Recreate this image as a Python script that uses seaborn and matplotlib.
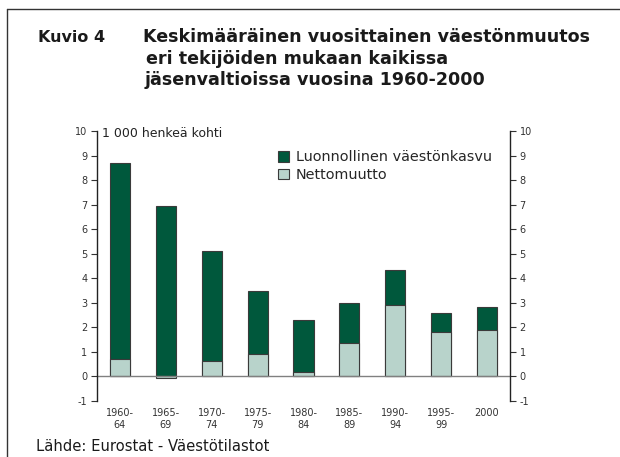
import numpy as np
import pandas as pd
import seaborn as sns
import matplotlib.pyplot as plt
from matplotlib.patches import Patch
from matplotlib.lines import Line2D

# Tiedot
jaksot = ['1960-\n64', '1965-\n69', '1970-\n74', '1975-\n79', '1980-\n84',
          '1985-\n89', '1990-\n94', '1995-\n99', '2000']
luonnollinen = [8.0, 6.95, 4.5, 2.57, 2.1, 1.65, 1.43, 0.78, 0.94]
nettomuutto = [0.7, -0.05, 0.61, 0.9, 0.2, 1.35, 2.9, 1.8, 1.88]

tumma = '#00583c'
vaalea = '#b8d3cb'
reuna = '#3a3a3a'

sns.set_style('ticks')
plt.rcParams['font.family'] = ['DejaVu Sans']
plt.rcParams['axes.unicode_minus'] = False

df = pd.DataFrame({'jakso': jaksot,
                   'luonnollinen': luonnollinen,
                   'netto': nettomuutto})
# pinottu pylväs: luonnollinen kasvu netto-osan päällä
df['yhteensa'] = df['luonnollinen'] + df['netto'].clip(lower=0)

fig = plt.figure(figsize=(6.2, 4.57), dpi=100)
ax = fig.add_axes([0.1565, 0.1225, 0.666, 0.5908])

sns.barplot(data=df, x='jakso', y='yhteensa', color=tumma, width=0.44,
            edgecolor=reuna, linewidth=0.8, saturation=1, ax=ax)
sns.barplot(data=df, x='jakso', y='netto', color=vaalea, width=0.44,
            edgecolor=reuna, linewidth=0.8, saturation=1, ax=ax)

ax.axhline(0, color='#808080', linewidth=1.0, zorder=1)
ax.set_ylim(-1, 10)
ax.set_xlim(-0.5, len(jaksot) - 0.5)
ax.set_yticks(range(-1, 11))
ax.set_xlabel('')
ax.set_ylabel('')

for s in ['left', 'right']:
    ax.spines[s].set_visible(True)
    ax.spines[s].set_color('#222222')
    ax.spines[s].set_linewidth(1.0)
ax.spines['top'].set_visible(False)
ax.spines['bottom'].set_visible(False)

ax.tick_params(axis='y', which='both', left=True, right=True, labelleft=True,
               labelright=True, direction='out', length=4, width=0.8,
               labelsize=7, colors='#333333', pad=3)
ax.tick_params(axis='x', length=0, labelsize=7, colors='#333333', pad=5)

ax.text(0.013, 0.99, '1 000 henkeä kohti', transform=ax.transAxes,
        fontsize=9, color='#222222', va='center', ha='left')

kahvat = [Patch(facecolor=tumma, edgecolor=reuna, linewidth=0.8),
          Patch(facecolor=vaalea, edgecolor=reuna, linewidth=0.8)]
ax.legend(kahvat, ['Luonnollinen väestönkasvu', 'Nettomuutto'],
          loc='upper left', bbox_to_anchor=(0.425, 0.95), frameon=False,
          fontsize=10.4, handlelength=0.75, handleheight=0.75,
          handletextpad=0.45, labelspacing=0.25, borderaxespad=0)

# otsikko
fig.text(0.061, 0.918, 'Kuvio 4', fontsize=11.5, fontweight='bold',
         color='#1a1a1a', va='center')
fig.text(0.231, 0.918, 'Keskimääräinen vuosittainen väestönmuutos',
         fontsize=12.6, fontweight='bold', color='#1a1a1a', va='center')
fig.text(0.236, 0.871, 'eri tekijöiden mukaan kaikissa',
         fontsize=12.6, fontweight='bold', color='#1a1a1a', va='center')
fig.text(0.233, 0.825, 'jäsenvaltioissa vuosina 1960-2000',
         fontsize=12.6, fontweight='bold', color='#1a1a1a', va='center')

fig.text(0.058, 0.022, 'Lähde: Eurostat - Väestötilastot', fontsize=10.6,
         color='#1a1a1a', va='center')

# kehys (vasen ja ylä)
fig.add_artist(Line2D([0.011, 0.011], [0, 0.981], color='#333333',
                      linewidth=1.0, transform=fig.transFigure))
fig.add_artist(Line2D([0.011, 1.0], [0.981, 0.981], color='#333333',
                      linewidth=1.0, transform=fig.transFigure))

fig.savefig('out.png', dpi=100)
